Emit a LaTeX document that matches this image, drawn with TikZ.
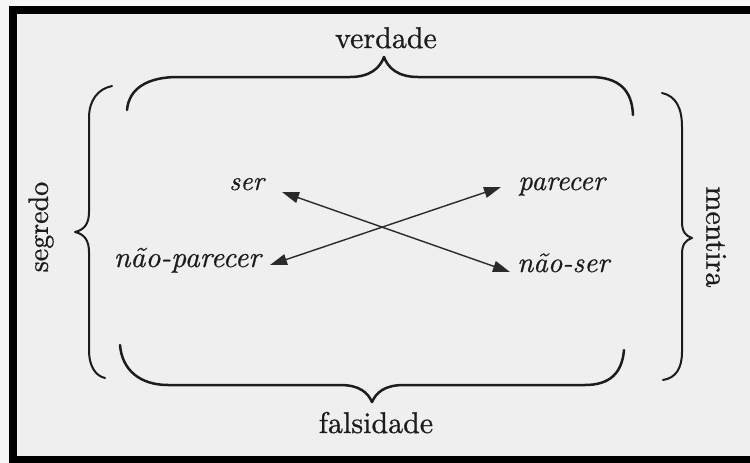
\documentclass[tikz,border=0pt]{standalone}
\usepackage{fontspec}
\usetikzlibrary{arrows.meta}
\newfontfamily\uprfont{lmroman10-regular.otf}[FakeBold=0.8]
\newfontfamily\itfont{lmroman10-italic.otf}[FakeBold=0.6]
\definecolor{pagegray}{HTML}{EFEFEF}
\definecolor{outerwhite}{HTML}{F7F7F7}
\definecolor{ink}{HTML}{1C1C1C}
\definecolor{arrowink}{HTML}{2A2A2A}
\begin{document}
\begin{tikzpicture}[x=1pt,y=-1pt,
  bigtext/.style={font=\uprfont\fontsize{30}{36}\selectfont, text=ink, inner sep=0pt},
  sidetext/.style={font=\uprfont\fontsize{28}{34}\selectfont, text=ink, inner sep=0pt},
  itext/.style={font=\itfont\fontsize{28.5}{34}\selectfont, text=ink, inner sep=0pt},
  bracestroke/.style={draw=ink, line width=2.5pt, line cap=round, line join=round},
  sidestroke/.style={draw=ink, line width=2.0pt, line cap=round, line join=round},
  dblarrow/.style={draw=arrowink, line width=1.4pt,
    {Triangle[length=17pt,width=11pt]}-{Triangle[length=17pt,width=11pt]}}]
\useasboundingbox (0,0) rectangle (750,463);
% page and frame
\fill[outerwhite] (0,0) rectangle (750,463);
\fill[black] (9,6) rectangle (750,463);
\fill[pagegray] (17,14) rectangle (750,456);

% labels
\node[bigtext, anchor=base] (verdade) at (386,48) {verdade};
\node[bigtext, anchor=base] (falsidade) at (376,433) {falsidade};
\node[sidetext, rotate=90] (segredo) at (41,227) {segredo};
\node[sidetext, rotate=-90, font=\uprfont\fontsize{30}{36}\selectfont] (mentira) at (716,237) {mentira};

\node[itext, anchor=base west, font=\itfont\fontsize{27}{32}\selectfont] (ser) at (229,190) {ser};
\node[itext, anchor=base west] (parecer) at (518,190) {parecer};
\node[itext, anchor=base east, font=\itfont\fontsize{29.5}{35}\selectfont] (naoparecer) at (261,267) {não-parecer};
\node[itext, anchor=base west] (naoser) at (517,272) {não-ser};

% arrow end points next to the labels
\coordinate (serTip) at (282,192);
\coordinate (naoserTip) at (510,272);
\coordinate (naoparecerTip) at (270,265);
\coordinate (parecerTip) at (501,187);
\draw[dblarrow] (serTip) -- (naoserTip);
\draw[dblarrow] (naoparecerTip) -- (parecerTip);

% top brace (verdade)
\draw[bracestroke] (127,110) .. controls (129,88) and (148,77) .. (178,77)
  -- (350,77) .. controls (370,77) and (380,68) .. (384,57)
  .. controls (388,68) and (398,77) .. (418,77)
  -- (590,77) .. controls (619,77) and (632,90) .. (633,115);

% bottom brace (falsidade)
\draw[bracestroke] (120,345) .. controls (122,370) and (140,385) .. (168,385)
  -- (340,385) .. controls (360,385) and (368,393) .. (372,402)
  .. controls (376,393) and (384,385) .. (404,385)
  -- (585,385) .. controls (610,385) and (622,373) .. (624,350);

% left brace (segredo)
\draw[sidestroke] (112,86) .. controls (98,89) and (89,100) .. (89,118)
  -- (89,212) .. controls (89,224) and (84,230) .. (75,232)
  .. controls (84,234) and (89,240) .. (89,252)
  -- (89,350) .. controls (89,367) and (96,376) .. (105,378);

% right brace (mentira)
\draw[sidestroke] (662,93) .. controls (676,96) and (682,108) .. (682,127)
  -- (682,222) .. controls (682,232) and (686,236) .. (692,238)
  .. controls (686,240) and (682,244) .. (682,254)
  -- (682,352) .. controls (682,368) and (676,378) .. (663,380);
\end{tikzpicture}
\end{document}
